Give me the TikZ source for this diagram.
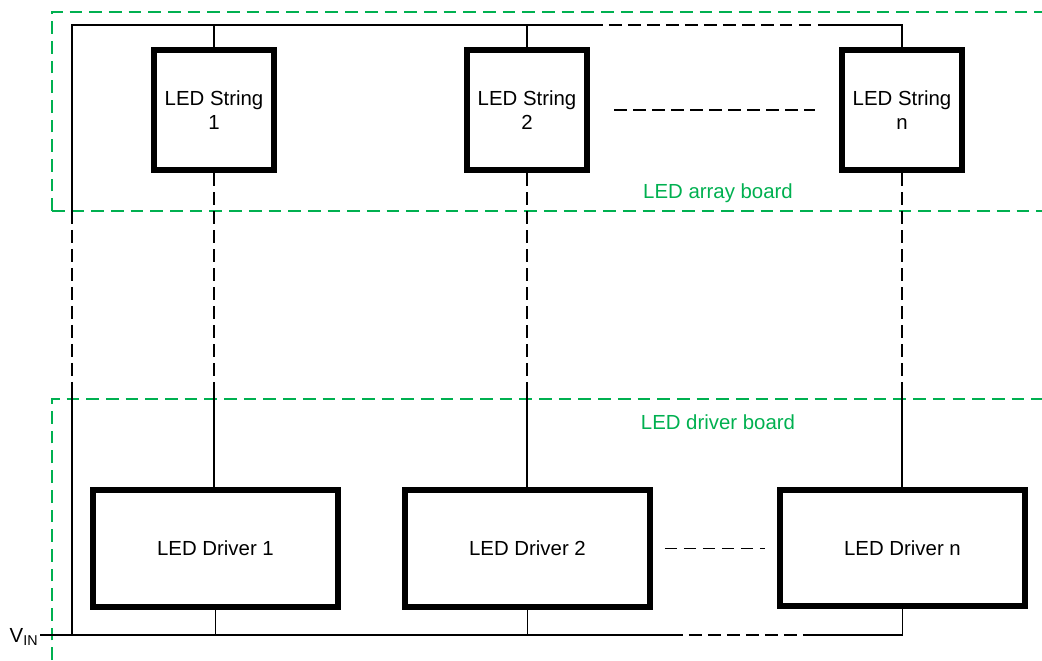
\documentclass[tikz,border=0pt]{standalone}
\usepackage{fontspec}
\setmainfont{Liberation Sans}
\usepackage{tikz}
\usetikzlibrary{calc}
\definecolor{boardgreen}{RGB}{0,176,80}

\begin{document}
\begin{tikzpicture}[x=0.025cm,y=-0.025cm]
    \tikzset{stringbox/.style = {shape=rectangle,draw,line width=4.2pt,minimum width=3.02cm,minimum height=3.02cm,align=center,font=\fontsize{14.5}{17.5}\selectfont}}
    \tikzset{driverbox/.style = {shape=rectangle,draw,line width=4.2pt,minimum width=6.12cm,minimum height=2.92cm,font=\fontsize{14.5}{17.5}\selectfont}}
    \tikzset{wire/.style = {-,line width=1pt}}
    \tikzset{link/.style = {-,line width=1pt,dash pattern=on 9pt off 4.5pt}}
    \tikzset{board/.style = {-,draw=boardgreen,line width=1pt,dash pattern=on 9pt off 5pt}}
    \tikzset{boardlabel/.style = {text=boardgreen,font=\fontsize{14.5}{17.5}\selectfont}}

    \useasboundingbox (0,0) rectangle (1042,660);

    % boards

    \draw[board] (52,211) -- (52,12) -- (1042,12);
    \draw[board] (52,211) -- (1042,211);
    \draw[board] (52,660) -- (52,399) -- (1042,399);
    \node[boardlabel] (arraylbl) at (718,193) {LED array board};
    \node[boardlabel] (driverlbl) at (718,422) {LED driver board};

    % strings and drivers

    \node[stringbox] (s1) at (214,110) {LED String\\1};
    \node[stringbox] (s2) at (527,110) {LED String\\2};
    \node[stringbox] (sn) at (902,110) {LED String\\n};

    \node[driverbox] (d1) at (215.5,548.5) {LED Driver 1};
    \node[driverbox] (d2) at (527.5,548.5) {LED Driver 2};
    \node[driverbox] (dn) at (902.5,548) {LED Driver n};

    % rails

    \coordinate (tl) at (72,25);
    \coordinate (ta) at (590,25);
    \coordinate (tb) at (830,25);
    \coordinate (la) at (72,211);
    \coordinate (lb) at (72,392);
    \coordinate (bl) at (72,635);
    \coordinate (ba) at (670,635);
    \coordinate (bb) at (808,635);
    \node[anchor=east,inner sep=1pt,font=\fontsize{14.5}{17.5}\selectfont] (vin) at (40,637) {V\textsubscript{IN}};

    \draw[wire] (la) -- (tl) -- (ta);
    \draw[link] (ta) -- (tb);
    \draw[wire] (tb) -- (tb -| sn) -- (sn.north);
    \draw[wire] (s1.north) -- (s1.north |- tl);
    \draw[wire] (s2.north) -- (s2.north |- tl);
    \draw[link] (la) -- (lb);
    \draw[wire] (lb) -- (bl);

    \draw[wire] (vin.east |- bl) -- (ba);
    \draw[link] (ba) -- (bb);
    \draw[wire] (bb) -- (bb -| dn) -- (dn.south);
    \draw[wire] (d1.south) -- (d1.south |- bl);
    \draw[wire] (d2.south) -- (d2.south |- bl);

    % string to driver

    \draw[link] (s1.south) -- (s1.south |- lb);
    \draw[wire] (s1.south |- lb) -- (d1.north -| s1.south);
    \draw[link] (s2.south) -- (s2.south |- lb);
    \draw[wire] (s2.south |- lb) -- (d2.north -| s2.south);
    \draw[link] (sn.south) -- (sn.south |- lb);
    \draw[wire] (sn.south |- lb) -- (dn.north -| sn.south);

    % more strings / drivers
    \draw[link,shorten <=17pt,shorten >=17pt] (s2.east) -- (sn.west);
    \draw[link,shorten <=8.5pt,shorten >=8.5pt] (d2.east) -- (d2.east -| dn.west);
\end{tikzpicture}
\end{document}
